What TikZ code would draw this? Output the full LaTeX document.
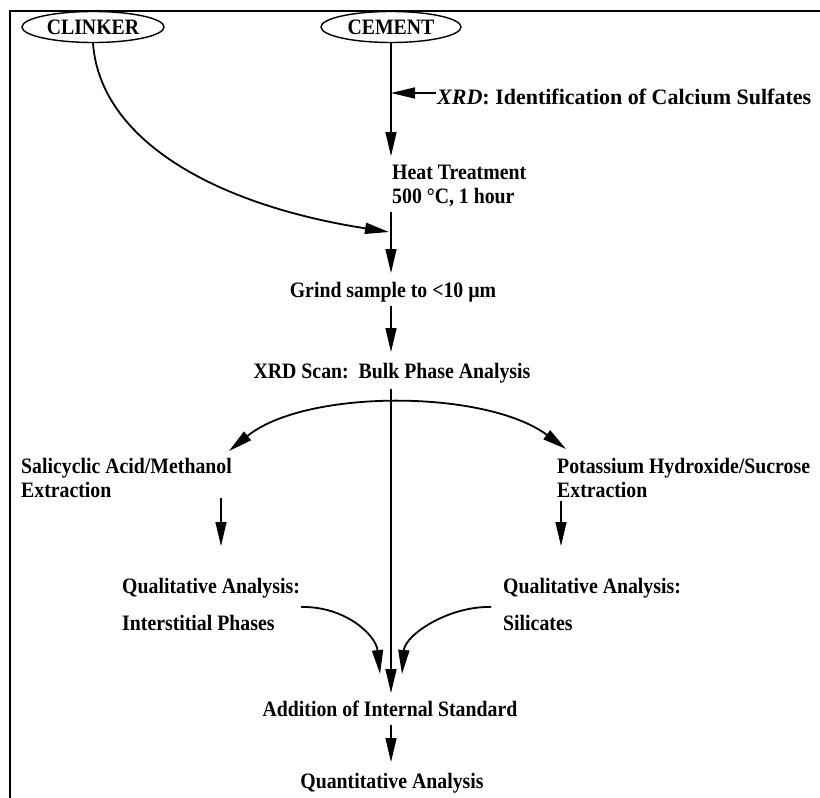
\documentclass[tikz,border=0pt]{standalone}
\usepackage{fontspec}
\setmainfont{Liberation Serif}[FakeStretch=0.9]
\newfontfamily\widefont{Liberation Serif}
\usetikzlibrary{shapes.geometric,arrows.meta}
\begin{document}
\begin{tikzpicture}[x=1pt,y=-1pt,
  every node/.style={font=\fontsize{22}{24}\selectfont\bfseries, inner sep=0pt},
  lbl/.style={align=left, anchor=base west},
  oval/.style={draw, ellipse, line width=1.4pt, minimum height=31pt},
  conn/.style={line width=1.3pt},
  tip/.style={-{Triangle[length=24pt,width=11pt]}},
  arr/.style={conn, tip},
  curvy/.style={line width=1.8pt, tip},
  frame/.style={line width=1.8pt}]
\useasboundingbox (0,0) rectangle (820,798);
\draw[frame] (10,798) -- (10,11) -- (820,11);

\node[oval, minimum width=142pt] (clinker) at (93,27) {CLINKER};
\node[oval, minimum width=140pt] (cement) at (391,27) {CEMENT};
\node[anchor=base west, font=\widefont\fontsize{22}{24}\selectfont\bfseries] (xrdid) at (437,104) {\textit{XRD}: Identification of Calcium Sulfates};
\node[lbl] (heat) at (392,203) {Heat Treatment\\500 °C, 1 hour};
\node[anchor=base] (grind) at (393,297) {Grind sample to <10 µm};
\node[anchor=base] (scan) at (392,378) {XRD Scan:\ \ Bulk Phase Analysis};
\node[lbl] (salic) at (21,497) {Salicyclic Acid/Methanol\\Extraction};
\node[lbl] (potas) at (557,497) {Potassium Hydroxide/Sucrose\\Extraction};
\node[lbl, font=\fontsize{22}{37}\selectfont\bfseries] (qualA) at (122,630) {Qualitative Analysis:\\Interstitial Phases};
\node[lbl, font=\fontsize{22}{37}\selectfont\bfseries] (qualB) at (503,630) {Qualitative Analysis:\\Silicates};
\node[anchor=base] (addn) at (390,716) {Addition of Internal Standard};
\node[anchor=base] (quant) at (392,788) {Quantitative Analysis};

\coordinate (xrdtip) at (391,93);
\coordinate (xrdfrom) at (436,93);
\coordinate (heatin) at (391,156);
\coordinate (heatout) at (391,212);
\coordinate (clinkin) at (389,232);
\coordinate (grindin) at (391,273);
\coordinate (grindout) at (391,306);
\coordinate (scanin) at (391,352);
\coordinate (scanout) at (391,389);
\coordinate (addnin) at (391,693);
\coordinate (addnout) at (391,725);
\coordinate (quantin) at (391,762);
\coordinate (splitL) at (229,451);
\coordinate (splitR) at (566,449);
\coordinate (exLa) at (221,498);
\coordinate (exLb) at (221,546);
\coordinate (exRa) at (561,501);
\coordinate (exRb) at (561,546);
\coordinate (qAout) at (301,607);
\coordinate (qAin) at (380,674);
\coordinate (qBout) at (491,607);
\coordinate (qBin) at (402,674);

\draw[arr] (cement.south) -- (heatin);
\draw[arr] (xrdfrom) -- (xrdtip);
\draw[curvy] (clinker.south) .. controls (100,140) and (215,205) .. (clinkin);
\draw[conn] (heatout) -- ([xshift=2pt]clinkin);
\draw[arr] ([xshift=2pt]clinkin) -- (grindin);
\draw[arr] (grindout) -- (scanin);
\draw[arr] (scanout) -- (addnin);
\draw[line width=1.8pt, {Triangle[length=24pt,width=11pt]}-{Triangle[length=24pt,width=11pt]}] (splitL) .. controls (305,389) and (485,389) .. (splitR);
\draw[arr] (exLa) -- (exLb);
\draw[arr] (exRa) -- (exRb);
\draw[curvy] (qAout) .. controls (345,606) and (376,635) .. (qAin);
\draw[curvy] (qBout) .. controls (448,606) and (405,635) .. (qBin);
\draw[arr] (addnout) -- (quantin);
\end{tikzpicture}
\end{document}
